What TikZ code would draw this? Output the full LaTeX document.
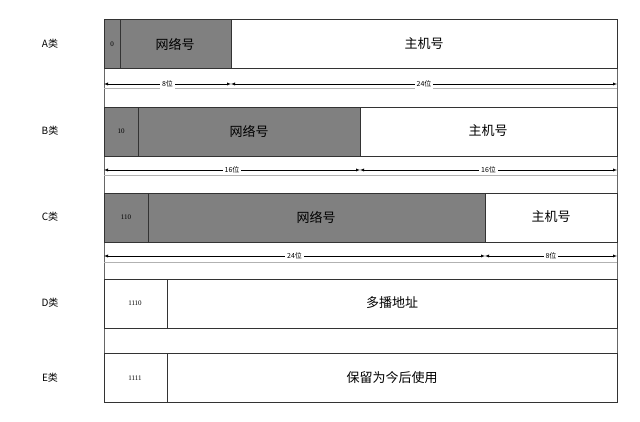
\documentclass[tikz,border=0pt]{standalone}
\usepackage{fontspec}
\setmainfont{Liberation Serif}
\newfontfamily\cjk{Noto Sans CJK SC}
\definecolor{netgray}{RGB}{128,128,128}
\tikzset{
  field/.style={draw=black!80,line width=0.6pt},
  netfield/.style={field,fill=netgray},
  bits/.style={font=\fontsize{7}{8}\selectfont},
  big/.style={font=\cjk\fontsize{13}{15}\selectfont},
  dim/.style={<->,>=latex,line width=0.4pt},
  dimlbl/.style={font=\cjk\fontsize{7}{8}\selectfont,fill=white,inner sep=2pt},
  cls/.style={font=\cjk\fontsize{10}{12}\selectfont}
}
\begin{document}
\begin{tikzpicture}[x=1pt,y=-1pt]
\useasboundingbox (0,0) rectangle (640,422);

% outer frame
\draw[black!60] (104,19) rectangle (617,402);
\foreach \y in {88,175,262,353}{
\draw[black!30] (104,\y) -- (617,\y);}

% class labels
\node[cls] (lA) at (50,44) {A类};
\node[cls] (lB) at (50,131) {B类};
\node[cls] (lC) at (50,217) {C类};
\node[cls] (lD) at (50,303) {D类};
\node[cls] (lE) at (50,378) {E类};

% A
\draw[netfield] (104,19) rectangle (120,68);
\draw[netfield] (120,19) rectangle (231,68);
\draw[field] (231,19) rectangle (617,68);
\node[bits] (a0) at (112,44) {0};
\node[big] (an) at (175,44) {网络号};
\node[big] (ah) at (424,44) {主机号};
\coordinate (a1) at (104,84);
\coordinate (a2) at (231,84);
\coordinate (a3) at (617,84);
\draw[dim] (a1) -- node[dimlbl] {8位} (a2);
\draw[dim] (a2) -- node[dimlbl] {24位} (a3);

% B
\draw[netfield] (104,107) rectangle (138,156);
\draw[netfield] (138,107) rectangle (360,156);
\draw[field] (360,107) rectangle (617,156);
\node[bits] (b0) at (121,131) {10};
\node[big] (bn) at (249,131) {网络号};
\node[big] (bh) at (488,131) {主机号};
\coordinate (b1) at (104,170);
\coordinate (b2) at (360,170);
\coordinate (b3) at (617,170);
\draw[dim] (b1) -- node[dimlbl] {16位} (b2);
\draw[dim] (b2) -- node[dimlbl] {16位} (b3);

% C
\draw[netfield] (104,193) rectangle (148,242);
\draw[netfield] (148,193) rectangle (485,242);
\draw[field] (485,193) rectangle (617,242);
\node[bits] (c0) at (126,217) {110};
\node[big] (cn) at (316,217) {网络号};
\node[big] (ch) at (551,217) {主机号};
\coordinate (c1) at (104,256);
\coordinate (c2) at (485,256);
\coordinate (c3) at (617,256);
\draw[dim] (c1) -- node[dimlbl] {24位} (c2);
\draw[dim] (c2) -- node[dimlbl] {8位} (c3);

% D
\draw[field] (104,279) rectangle (167,328);
\draw[field] (167,279) rectangle (617,328);
\node[bits] (d0) at (135,303) {1110};
\node[big] (dn) at (392,303) {多播地址};

% E
\draw[field] (104,353) rectangle (167,402);
\draw[field] (167,353) rectangle (617,402);
\node[bits] (e0) at (135,378) {1111};
\node[big] (en) at (392,378) {保留为今后使用};
\end{tikzpicture}
\end{document}
